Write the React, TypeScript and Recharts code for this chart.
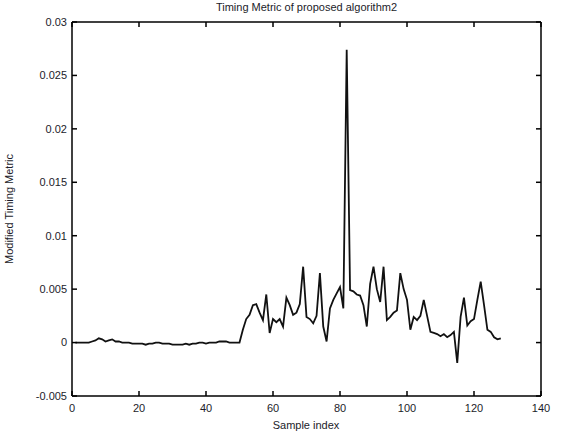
import { Label, Line, LineChart, XAxis, YAxis } from "recharts";

// sample index 1..128
const metric: number[] = [
  0, 0, 0, 0, 0, 0.0001, 0.0002, 0.0004, 0.0003, 0.0001,
  0.0002, 0.0003, 0.0001, 0.0001, 0, 0, 0, -0.0001, -0.0001, -0.0001,
  -0.0001, -0.0002, -0.0001, -0.0001, 0, 0, -0.0001, -0.0001, -0.0001, -0.0002,
  -0.0002, -0.0002, -0.0002, -0.0001, -0.0002, -0.0001, -0.0001, 0, 0, -0.0001,
  0, 0, 0, 0.0001, 0.0001, 0.0001, 0, 0, 0, 0,
  0.0012, 0.0022, 0.0026, 0.0035, 0.0036, 0.0028, 0.0021, 0.0045, 0.0009, 0.0022,
  0.0019, 0.0022, 0.0015, 0.0042, 0.0035, 0.0026, 0.0028, 0.0036, 0.0071, 0.0024,
  0.0022, 0.0018, 0.0025, 0.0065, 0.0015, 0.0001, 0.0032, 0.004, 0.0046, 0.0052,
  0.0032, 0.0274, 0.0049, 0.0048, 0.0045, 0.0044, 0.0035, 0.0015, 0.0055, 0.0071,
  0.005, 0.0038, 0.0071, 0.0021, 0.0024, 0.0028, 0.003, 0.0065, 0.005, 0.004,
  0.0012, 0.0024, 0.0021, 0.0025, 0.004, 0.0025, 0.001, 0.0009, 0.0008, 0.0006,
  0.0008, 0.0005, 0.0007, 0.001, -0.0019, 0.0024, 0.0042, 0.0016, 0.002, 0.0022,
  0.004, 0.0057, 0.0035, 0.0012, 0.001, 0.0005, 0.0003, 0.0004,
];

const xTicks = [0, 20, 40, 60, 80, 100, 120, 140];
const yTicks = [-0.005, 0, 0.005, 0.01, 0.015, 0.02, 0.025, 0.03];

const title = "Timing Metric of proposed algorithm2";
const xLabel = "Sample index";
const yLabel = "Modified Timing Metric";

const data = metric.map((v, i) => ({ n: i + 1, v }));

const font = "'Liberation Sans', Arial, sans-serif";
const ink = "#1c1c2a";
const noTick = () => <g />;

export default function App() {
  return (
    <div style={{ position: "absolute", left: 0, top: 0, width: 561, height: 438, background: "#fff" }}>
      <div
        style={{
          position: "absolute",
          top: 1,
          left: 0,
          width: 561,
          paddingLeft: 52,
          boxSizing: "border-box",
          textAlign: "center",
          fontFamily: font,
          fontSize: 11,
          color: ink,
        }}
      >
        {title}
      </div>
      <LineChart
        width={561}
        height={438}
        data={data}
        margin={{ top: 2, right: 0, bottom: 0, left: 0 }}
        style={{ fontFamily: font }}
      >
        <XAxis
          xAxisId="b"
          dataKey="n"
          type="number"
          domain={[0, 140]}
          ticks={xTicks}
          height={42}
          tickSize={-5}
          tickMargin={13}
          stroke="#000"
          strokeWidth={1.5}
          tick={{ fontSize: 11, fill: ink }}
        >
          <Label
            content={() => (
              <text x={306} y={429} textAnchor="middle" fontSize={11} fill={ink} fontFamily={font}>
                {xLabel}
              </text>
            )}
          />
        </XAxis>
        <XAxis
          xAxisId="t"
          orientation="top"
          dataKey="n"
          type="number"
          domain={[0, 140]}
          ticks={xTicks}
          height={20}
          tickSize={-5}
          stroke="#000"
          strokeWidth={1.5}
          tick={noTick}
        />
        <YAxis
          yAxisId="l"
          type="number"
          domain={[-0.005, 0.03]}
          ticks={yTicks}
          width={72}
          tickSize={-5}
          tickMargin={10}
          stroke="#000"
          strokeWidth={1.5}
          tick={{ fontSize: 11, fill: ink }}
          allowDataOverflow
        >
          <Label
            content={() => (
              <text
                x={13}
                y={209}
                textAnchor="middle"
                fontSize={11}
                fill={ink}
                fontFamily={font}
                transform="rotate(-90 13 209)"
              >
                {yLabel}
              </text>
            )}
          />
        </YAxis>
        <YAxis
          yAxisId="r"
          orientation="right"
          type="number"
          domain={[-0.005, 0.03]}
          ticks={yTicks}
          width={20}
          tickSize={-5}
          stroke="#000"
          strokeWidth={1.5}
          tick={noTick}
          allowDataOverflow
        />
        {/* invisible series so the top/right frame axes are drawn */}
        <Line
          xAxisId="t"
          yAxisId="r"
          dataKey="v"
          stroke="none"
          dot={false}
          activeDot={false}
          isAnimationActive={false}
        />
        <Line
          xAxisId="b"
          yAxisId="l"
          type="linear"
          dataKey="v"
          stroke="#111"
          strokeWidth={1.8}
          dot={false}
          isAnimationActive={false}
        />
      </LineChart>
    </div>
  );
}
